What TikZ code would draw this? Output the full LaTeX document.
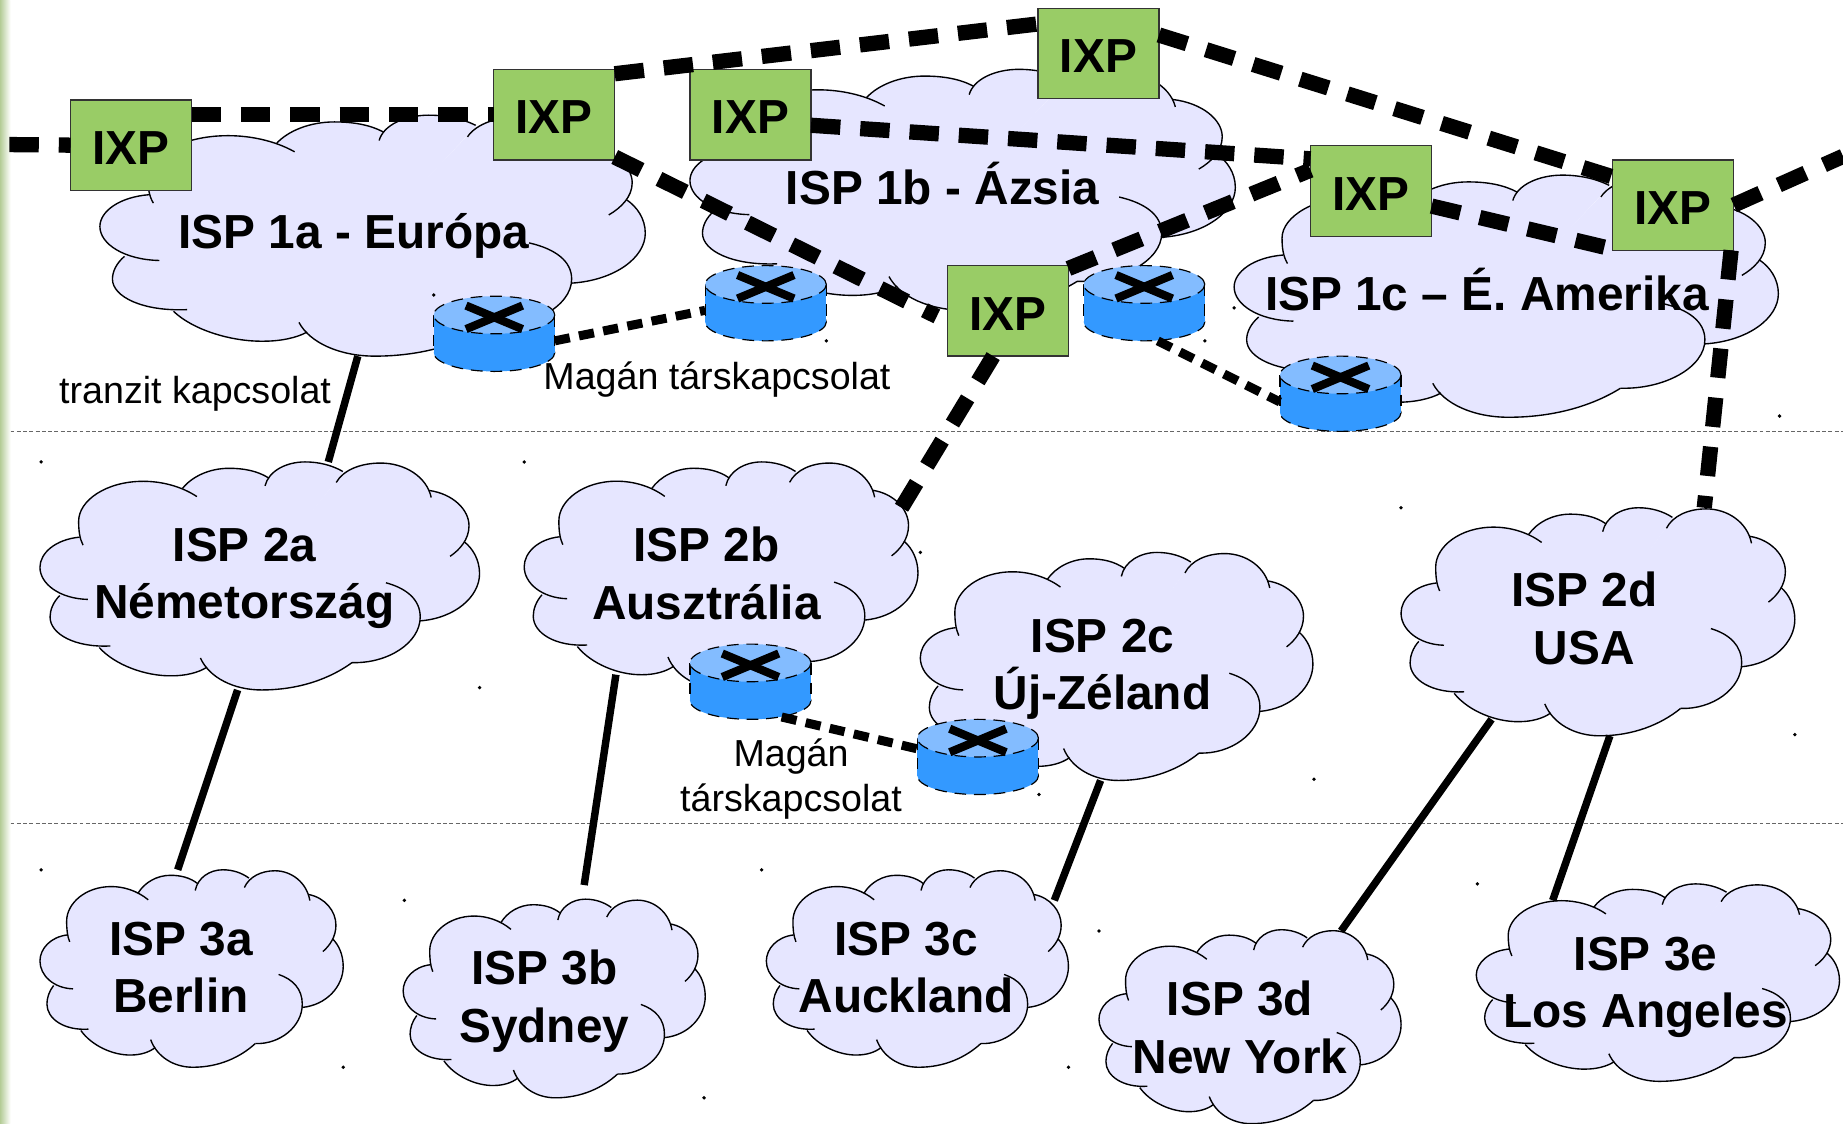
\documentclass[tikz,border=0pt]{standalone}
\usepackage{fontspec}
\setmainfont{Liberation Sans}
\definecolor{cloudfill}{HTML}{E6E6FF}
\definecolor{ixpgreen}{HTML}{99CC66}
\definecolor{routerbody}{HTML}{3399FF}
\definecolor{routertop}{HTML}{83BCFF}
\definecolor{stripgreen}{HTML}{B4CC96}
\tikzset{
  ispline/.style={black,line width=0.35pt},
  isplabel/.style={font=\fontsize{12.2}{14.7}\selectfont\bfseries,align=center,inner sep=0pt},
  ispbox/.style={inner sep=0pt,outer sep=0pt},
  ixpbox/.style={draw=black!80,line width=0.35pt,fill=ixpgreen,minimum width=30.9pt,minimum height=23.1pt,
    inner sep=0pt,outer sep=0pt,text height=9.9pt,text depth=0pt,font=\fontsize{12.2}{14.7}\selectfont\bfseries},
  routerbox/.style={minimum width=30.9pt,minimum height=19.2pt,inner sep=0pt,outer sep=0pt},
  routeredge/.style={black,line width=0.3pt,densely dashed},
  routerx/.style={black,line width=2.1pt},
  peerlink/.style={black,line width=3.9pt,dash pattern=on 7.5pt off 5.1pt},
  privlink/.style={black,line width=2.3pt,dash pattern=on 3.9pt off 2.4pt},
  transit/.style={black,line width=1.9pt},
  tierline/.style={black!60,line width=0.25pt,dash pattern=on 1pt off 0.6pt},
  linklabel/.style={font=\fontsize{9.6}{11.4}\selectfont,align=center,inner sep=0pt}
}
\newcommand{\filllobe}[1]{\filldraw[cloudfill,line width=0.4pt] #1 -- (50,50) -- cycle;}
\newcommand{\linelobe}[1]{\draw[ispline] #1;}
\newcommand{\cloudlobes}[1]{%
  #1{(9,33) .. controls (3.5,34) and (0,40) .. (0,46.2) .. controls (0,53.5) and (4.5,60) .. (10.9,60.3)}
  #1{(4.5,58.6) .. controls (3,61.5) and (2.3,65) .. (2.3,68) .. controls (2.3,75.5) and (8,81.5) .. (16,80.7)}
  #1{(13.5,81.4) .. controls (17,89) and (24,94) .. (30,93.8) .. controls (33,93.8) and (36,92.5) .. (38,90)}
  #1{(36.5,86) .. controls (38.5,94.5) and (44,100) .. (50.4,100) .. controls (59,100) and (66,95) .. (71,88)}
  #1{(71,88) .. controls (79,88.5) and (86.5,79.5) .. (86.5,68) .. controls (86.5,60.5) and (83.5,55.5) .. (78.7,53)}
  #1{(86.5,69.7) .. controls (94.5,68.5) and (100,59) .. (100,49) .. controls (100,43) and (98.5,38) .. (96.5,35)}
  #1{(88.5,12.5) .. controls (94,14) and (97.6,21) .. (97.6,28) .. controls (97.6,34) and (95.5,38.5) .. (93.3,41.4)}
  #1{(67.4,9) .. controls (69,3.5) and (73,0.5) .. (77.5,0.5) .. controls (83,0.5) and (88,6.5) .. (89,15.6)}
  #1{(51.2,10.5) .. controls (52,4) and (56,0) .. (60.3,0) .. controls (63.5,0) and (66.5,1.5) .. (68.9,4.2)}
  #1{(52,7) .. controls (49.5,4) and (46.5,2.8) .. (43,2.8) .. controls (38.5,2.8) and (34.5,6.5) .. (32.4,11.7)}
  #1{(35.7,15.2) .. controls (32,10.5) and (27.5,8.5) .. (23.5,8.5) .. controls (15,8.5) and (8.8,17) .. (8.8,26) .. controls (8.8,30) and (9,33.5) .. (9.8,36.5)}
}

\begin{document}
\begin{tikzpicture}[x=0.3pt,y=-0.3pt]
  \useasboundingbox (0,0) rectangle (1568,956);
  \shade[left color=stripgreen,right color=white] (0,0) rectangle (9,956);
  \draw[tierline] (9,367) -- (1568,367);
  \draw[tierline] (9,701) -- (1568,701);

  % clouds: left, top, width, height, then the text centre
  \foreach \name/\x/\y/\w/\h/\lx/\ly/\lbl in {
    isp1a/85/98/464/205/301/201/{ISP 1a - Európa},
    isp1b/587/59/464/205/802/156/{ISP 1b - Ázsia},
    isp1c/1050/149/463/206/1265/246/{ISP 1c – É. Amerika},
    isp2a/34/393/374/194/208/492/{ISP 2a\\Németország},
    isp2b/446/393/335/193/601/488/{ISP 2b\\Ausztrália},
    isp2c/783/470/334/194/938/569.5/{ISP 2c\\Új-Zéland},
    isp2d/1192/432/335/194/1348/526/{ISP 2d\\USA},
    isp3a/34/740/258/168/154/823/{ISP 3a\\Berlin},
    isp3b/343/765/257/169/463/852/{ISP 3b\\Sydney},
    isp3c/652/740/257/168/771/823/{ISP 3c\\Auckland},
    isp3d/935/791/257/165/1055/874/{ISP 3d\\New York},
    isp3e/1256/752/309/168/1400/840/{ISP 3e\\Los Angeles}} {
    \begin{scope}[shift={(\x,\y)},xscale=\w/100,yscale=\h/100]
      \cloudlobes{\filllobe}
      \cloudlobes{\linelobe}
    \end{scope}
    \node[ispbox,minimum width=\w*0.3pt,minimum height=\h*0.3pt] (\name) at (\x+\w/2,\y+\h/2) {};
    \node[isplabel] (\name-text) at (\lx,\ly) {\lbl};
  }

  % routers
  \foreach \name/\x/\y in {priva/420.5/284,privb/651.5/258,privc/973.5/258,privd/1140.5/335,prive/638.5/580,privf/832/644} {
    \begin{scope}[shift={(\x,\y)}]
      \fill[routerbody] (0,16) ellipse[x radius=51.5,y radius=16];
      \draw[routeredge] (0,16) ellipse[x radius=51.5,y radius=16];
      \fill[routerbody] (-51.5,-16) rectangle (51.5,16);
      \draw[routeredge] (-51.5,-16) -- (-51.5,16) (51.5,-16) -- (51.5,16);
      \fill[routertop] (0,-16) ellipse[x radius=51.5,y radius=16];
      \draw[routeredge] (0,-16) ellipse[x radius=51.5,y radius=16];
    \end{scope}
    \node[routerbox] (\name) at (\x,\y) {};
    \draw[routerx] ([shift={(-24,-24)}]\name.center) -- ([shift={(24,-4)}]\name.center);
    \draw[routerx] ([shift={(-24,-4)}]\name.center) -- ([shift={(24,-24)}]\name.center);
  }

  % exchange points
  \node[ixpbox] (ixpa) at (111.5,123.5) {IXP};
  \node[ixpbox] (ixpb) at (471.5,97.5) {IXP};
  \node[ixpbox] (ixpc) at (638.5,97.5) {IXP};
  \node[ixpbox] (ixpd) at (934.5,45.5) {IXP};
  \node[ixpbox] (ixpe) at (1166.5,162.5) {IXP};
  \node[ixpbox] (ixpf) at (1423.5,174.5) {IXP};
  \node[ixpbox] (ixpg) at (857.5,264.5) {IXP};
  \coordinate (westend) at (8,123);
  \coordinate (eastend) at (1568,133);

  \draw[peerlink] (westend) -- (ixpa.west);
  \draw[peerlink] (ixpa.east |- ixpb.west) -- (ixpb.west);
  \draw[peerlink] (ixpb.34) -- (ixpd.154);
  \draw[peerlink,shorten >=3pt] (ixpb.-35) -- (ixpg.190);
  \draw[peerlink] (ixpc.-10) -- (ixpe.152);
  \draw[peerlink] (ixpd.17) -- (ixpf.155);
  \draw[peerlink] (ixpg.35) -- (ixpe.161);
  \draw[peerlink] (ixpe.-14) -- (ixpf.216);
  \draw[peerlink] (ixpf.east) -- (eastend);
  \draw[peerlink] (ixpf.-38) -- (isp2d.47);
  \draw[peerlink] (ixpg.-108) -- ([shift={(153.5,-57.5)}]isp2b.center);

  \draw[privlink] ([shift={(51.5,6)}]priva.center) -- ([shift={(-51.5,6)}]privb.center);
  \draw[privlink] ([shift={(11.5,32)}]privc.center) -- ([shift={(-51.5,7)}]privd.center);
  \draw[privlink] ([shift={(26.5,30)}]prive.center) -- ([shift={(-52,-7)}]privf.center);

  \draw[transit] (isp1a.263.3) -- (isp2a.59.1);
  \draw[transit] (isp2a.-101.6) -- (isp3a.98.8);
  \draw[transit] ([shift={(-89.5,84.5)}]isp2b.center) -- ([shift={(25.5,-96.5)}]isp3b.center);
  \draw[transit] (isp2c.-98.8) -- ([shift={(116.5,-58)}]isp3c.center);
  \draw[transit] ([shift={(-90.5,83)}]isp2d.center) -- ([shift={(77.5,-81.5)}]isp3d.center);
  \draw[transit] (isp2d.-84.4) -- ([shift={(-89.5,-70)}]isp3e.center);

  \node[linklabel] (tranzit) at (166,335) {tranzit kapcsolat};
  \node[linklabel] (maganeast) at (610,323) {Magán társkapcsolat};
  \node[linklabel] (magansouth) at (673,663) {Magán\\társkapcsolat};

  \foreach \x/\y in {35/393,446/393,1192/432,783/470,408/585,1527/625,1118/663,884/676,35/740,344/766,648/740,
    935/792,292/908,599/934,909/908,1257/752,1514/354,1050/262,703/290,369/251,1025/290}
    \fill (\x,\y) circle[radius=1.6];
\end{tikzpicture}
\end{document}
